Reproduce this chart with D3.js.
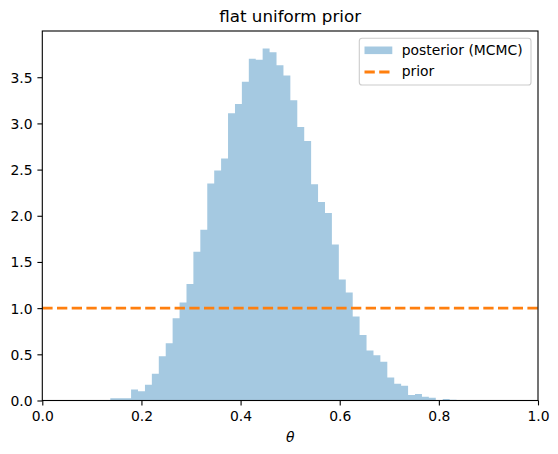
<!DOCTYPE html>
<html>
<head>
<meta charset="utf-8">
<script src="https://cdn.jsdelivr.net/npm/d3@7"></script>
<style>
  html, body { margin: 0; padding: 0; background: #fff; }
  svg { display: block; font-family: "DejaVu Sans", sans-serif; }
</style>
</head>
<body>
<svg id="chart" width="558" height="454"></svg>
<script>
// ---- data ----
const binEdges = [0.1372, 0.1512, 0.1651, 0.1791, 0.1931, 0.2071, 0.2210, 0.2350, 0.2490, 0.2629,
  0.2769, 0.2909, 0.3048, 0.3188, 0.3328, 0.3468, 0.3607, 0.3747, 0.3887, 0.4026,
  0.4166, 0.4306, 0.4445, 0.4585, 0.4725, 0.4865, 0.5004, 0.5144, 0.5284, 0.5423,
  0.5563, 0.5703, 0.5842, 0.5982, 0.6122, 0.6262, 0.6401, 0.6541, 0.6681, 0.6820,
  0.6960, 0.7100, 0.7239, 0.7379, 0.7519, 0.7659, 0.7798, 0.7938, 0.8078, 0.8217, 0.8357];
const posteriorDensity = [0.025, 0.025, 0.025, 0.12, 0.10, 0.17, 0.29, 0.48, 0.62, 0.89,
  1.06, 1.26, 1.61, 1.85, 2.35, 2.49, 2.62, 3.11, 3.21, 3.45,
  3.70, 3.69, 3.81, 3.77, 3.63, 3.52, 3.25, 2.96, 2.81, 2.34,
  2.15, 2.03, 1.69, 1.31, 1.17, 0.91, 0.71, 0.54, 0.49, 0.42,
  0.25, 0.18, 0.16, 0.06, 0.07, 0.04, 0.03, 0.0, 0.015, 0.007];
const priorDensity = 1.0;
const xTicks = [0.0, 0.2, 0.4, 0.6, 0.8, 1.0];
const yTicks = [0.0, 0.5, 1.0, 1.5, 2.0, 2.5, 3.0, 3.5];
const legendLabels = ["posterior (MCMC)", "prior"];
const titleText = "flat uniform prior";
const xLabelText = "θ";

// ---- layout ----
const L = 42.3, R = 538, T = 31, B = 400.5;
const fs = 13.9;
const svg = d3.select("#chart");

const x = d3.scaleLinear().domain([0, 1]).range([L, R]);
const yMax = d3.max(posteriorDensity) * 1.05;
const y = d3.scaleLinear().domain([0, yMax]).range([B, T]);

const barColor = "#a5c9e1";
const orange = "#ff7f0e";

// bars (drawn as one stepped path so adjacent bins have no seams)
const bins = posteriorDensity.map((d, i) => ({x0: binEdges[i], x1: binEdges[i + 1], h: d}));
const p = d3.path();
p.moveTo(x(bins[0].x0), y(0));
bins.forEach(b => { p.lineTo(x(b.x0), y(b.h)); p.lineTo(x(b.x1), y(b.h)); });
p.lineTo(x(bins[bins.length - 1].x1), y(0));
p.closePath();
svg.append("path").attr("d", p.toString()).attr("fill", barColor);

// prior line
svg.append("line")
  .attr("x1", x(0)).attr("x2", x(1))
  .attr("y1", y(priorDensity)).attr("y2", y(priorDensity))
  .attr("stroke", orange).attr("stroke-width", 2.8)
  .attr("stroke-dasharray", "10.3,4.4");

// axes
const xAxis = d3.axisBottom(x).tickValues(xTicks).tickFormat(d3.format(".1f"))
  .tickSize(4.9).tickPadding(4.9);
const yAxis = d3.axisLeft(y).tickValues(yTicks).tickFormat(d3.format(".1f"))
  .tickSize(4.9).tickPadding(4.9);

const gx = svg.append("g").attr("transform", `translate(0,${B})`).call(xAxis);
const gy = svg.append("g").attr("transform", `translate(${L},0)`).call(yAxis);
[gx, gy].forEach(g => {
  g.select(".domain").remove();
  g.selectAll(".tick line").attr("stroke", "#000").attr("stroke-width", 1.1);
  g.selectAll(".tick text").attr("fill", "#000").attr("font-size", fs)
    .attr("font-family", "DejaVu Sans");
});
gx.selectAll(".tick text").attr("dy", null).attr("y", 20.4);
gy.selectAll(".tick text").attr("dy", "0.35em");

// spines
svg.append("rect").attr("x", L).attr("y", T).attr("width", R - L).attr("height", B - T)
  .attr("fill", "none").attr("stroke", "#000").attr("stroke-width", 1.1);

// title
svg.append("text").attr("x", (L + R) / 2).attr("y", 22)
  .attr("text-anchor", "middle").attr("font-size", 16.7).text(titleText);

// x label
svg.append("text").attr("x", (L + R) / 2).attr("y", 442)
  .attr("text-anchor", "middle").attr("font-size", fs).attr("font-style", "italic")
  .text(xLabelText);

// legend
const lg = svg.append("g");
lg.append("rect").attr("x", 359.3).attr("y", 38.3).attr("width", 171.7).attr("height", 46.7)
  .attr("rx", 2.8).attr("fill", "#fff").attr("fill-opacity", 0.8)
  .attr("stroke", "#cccccc").attr("stroke-width", 1.1);
lg.append("rect").attr("x", 364.5).attr("y", 46.5).attr("width", 27.8).attr("height", 7.6)
  .attr("fill", barColor);
lg.append("line").attr("x1", 364.5).attr("x2", 392.3).attr("y1", 72).attr("y2", 72)
  .attr("stroke", orange).attr("stroke-width", 2.8).attr("stroke-dasharray", "10.3,4.4");
lg.selectAll("text.lab").data(legendLabels).join("text").attr("class", "lab")
  .attr("x", 401.7).attr("y", (d, i) => 55 + i * 21.1)
  .attr("font-size", fs).text(d => d);
</script>
</body>
</html>
